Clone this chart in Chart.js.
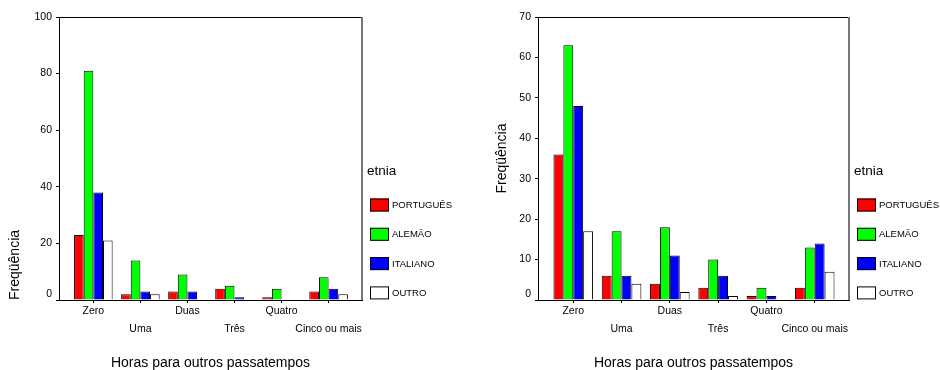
<!DOCTYPE html>
<html>
<head>
<meta charset="utf-8">
<script src="https://cdn.jsdelivr.net/npm/chart.js@4/dist/chart.umd.min.js"></script>
<style>
  html, body { margin: 0; padding: 0; background: #fff; overflow: hidden; }
  #wrap { position: relative; width: 940px; height: 370px; overflow: hidden; }
  .box { position: absolute; top: 0; height: 370px; }
</style>
</head>
<body>
<div id="wrap">
  <div class="box" style="left:0;width:470px"><canvas id="c1"></canvas></div>
  <div class="box" style="left:470px;width:490px"><canvas id="c2"></canvas></div>
</div>
<script>
// categories and series
var horas = ['Zero', 'Uma', 'Duas', 'Três', 'Quatro', 'Cinco ou mais'];
var etnias = ['PORTUGUÊS', 'ALEMÃO', 'ITALIANO', 'OUTRO'];
var cores = ['#ff0000', '#00ff00', '#0000ff', '#ffffff'];

// left chart
var portugues1 = [23, 2, 3, 4, 1, 3];
var alemao1    = [81, 14, 9, 5, 4, 8];
var italiano1  = [38, 3, 3, 1, 0, 4];
var outro1     = [21, 2, 0, 0, 0, 2];
var yTicks1 = [0, 20, 40, 60, 80, 100];

// right chart
var portugues2 = [36, 6, 4, 3, 1, 3];
var alemao2    = [63, 17, 18, 10, 3, 13];
var italiano2  = [48, 6, 11, 6, 1, 14];
var outro2     = [17, 4, 2, 1, 0, 7];
var yTicks2 = [0, 10, 20, 30, 40, 50, 60, 70];

Chart.defaults.font.family = "'Liberation Sans', Arial, sans-serif";
Chart.defaults.color = '#000';

// frame (top + right) and the "etnia" legend
var moldura = {
  id: 'moldura',
  afterDatasetsDraw: function (chart) {
    var a = chart.chartArea, ctx = chart.ctx;
    ctx.save();
    ctx.strokeStyle = '#000';
    ctx.lineWidth = 1;
    ctx.beginPath();
    ctx.moveTo(a.left, a.top + 0.5);
    ctx.lineTo(a.right, a.top + 0.5);
    ctx.stroke();
    ctx.strokeStyle = '#777';
    ctx.lineWidth = 2;
    ctx.beginPath();
    ctx.moveTo(a.right, a.top);
    ctx.lineTo(a.right, a.bottom);
    ctx.stroke();
    ctx.restore();
  },
  afterDraw: function (chart) {
    var a = chart.chartArea, ctx = chart.ctx;
    var x = a.right + 8;
    ctx.save();
    ctx.fillStyle = '#000';
    ctx.textBaseline = 'middle';
    ctx.font = "13.5px 'Liberation Sans', Arial, sans-serif";
    ctx.fillText('etnia', a.right + 5, 171.5);
    ctx.font = "9.5px 'Liberation Sans', Arial, sans-serif";
    chart.data.datasets.forEach(function (ds, i) {
      var y = 198.5 + i * 29.3;
      ctx.fillStyle = ds.backgroundColor;
      ctx.fillRect(x, y, 19, 13);
      ctx.strokeStyle = '#000';
      ctx.lineWidth = 1;
      ctx.strokeRect(x + 0.5, y + 0.5, 18, 12);
      ctx.fillStyle = '#000';
      ctx.fillText(ds.label, x + 22, y + 7);
    });
    ctx.restore();
  }
};

function desenha(id, series, yTicks, opt) {
  var datasets = etnias.map(function (nome, k) {
    return {
      label: nome,
      data: series[k].map(function (v, i) { return { x: i, y: v }; }),
      backgroundColor: cores[k],
      borderColor: '#000',
      borderWidth: 1,
      categoryPercentage: 0.82,
      barPercentage: 1
    };
  });

  return new Chart(document.getElementById(id), {
    type: 'bar',
    data: { datasets: datasets },
    plugins: [moldura],
    options: {
      responsive: true,
      maintainAspectRatio: false,
      animation: false,
      layout: { padding: { top: 17, right: opt.padRight, left: 0, bottom: 0 } },
      plugins: {
        legend: { display: false },
        tooltip: { enabled: false }
      },
      scales: {
        x: {
          type: 'linear',
          offset: false,
          min: -0.73,
          max: 5.71,
          grid: { offset: false, drawOnChartArea: false, tickLength: 3, color: '#000' },
          border: { color: '#000', width: 1 },
          ticks: {
            stepSize: 1,
            includeBounds: false,
            autoSkip: false,
            maxRotation: 0,
            padding: -1,
            font: { size: 10.5, lineHeight: 1.72 },
            callback: function (v) {
              if (v < 0 || v > 5 || v !== Math.round(v)) return '';
              return v % 2 ? ['', horas[v]] : horas[v];
            }
          },
          title: {
            display: true,
            text: 'Horas para outros passatempos',
            font: { size: 14 },
            padding: { top: 0, bottom: -1.5 }
          },
          afterFit: function (s) { s.height = 70; }
        },
        y: {
          min: 0,
          max: yTicks[yTicks.length - 1],
          grid: { drawOnChartArea: false, tickLength: 3, color: '#000' },
          border: { color: '#000', width: 1 },
          afterBuildTicks: function (s) {
            s.ticks = yTicks.map(function (v) { return { value: v }; });
          },
          ticks: {
            padding: 4,
            font: { size: 10.5, lineHeight: 1.2 },
            callback: function (v) { return v === 0 ? ['0', ''] : String(v); }
          },
          title: {
            display: true,
            text: 'Freqüência',
            align: opt.titleAlign,
            font: { size: 14 },
            padding: { top: opt.titlePad, bottom: 0 }
          },
          afterFit: function (s) { s.width = opt.yWidth; }
        }
      }
    }
  });
}

desenha('c1', [portugues1, alemao1, italiano1, outro1], yTicks1,
  { padRight: 108, yWidth: 59, titleAlign: 'start', titlePad: 7 });
desenha('c2', [portugues2, alemao2, italiano2, outro2], yTicks2,
  { padRight: 111, yWidth: 68, titleAlign: 'center', titlePad: 24 });
</script>
</body>
</html>
